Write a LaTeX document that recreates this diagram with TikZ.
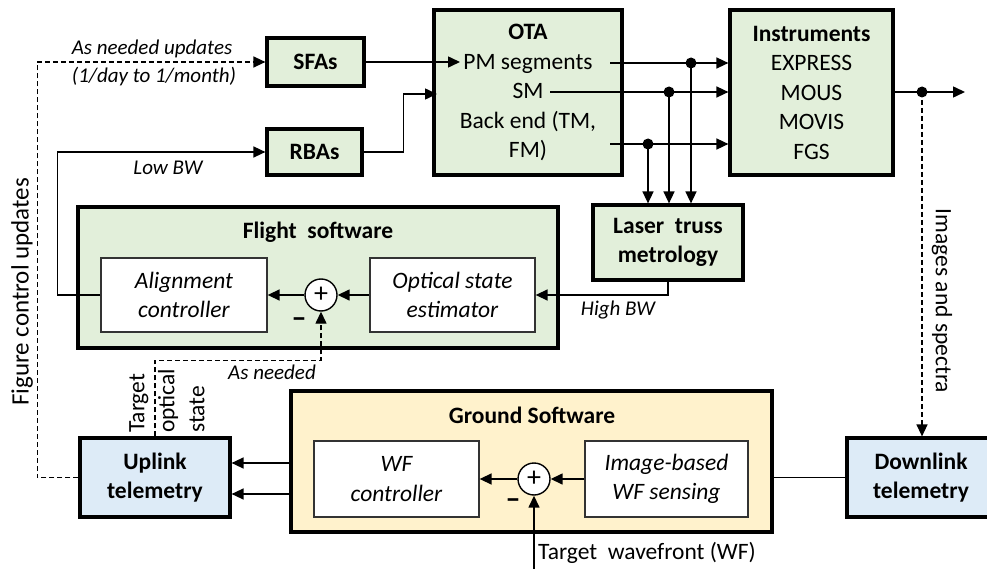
\documentclass[tikz,border=0pt]{standalone}
\usepackage{fontspec}
\setmainfont{Carlito}
\usetikzlibrary{arrows.meta}
\definecolor{gfill}{HTML}{E2EFDA}
\definecolor{bfill}{HTML}{DDEBF7}
\definecolor{yfill}{HTML}{FFF2CC}
\tikzset{
  txt/.style={font=\fontsize{23.5}{29.5}\selectfont},
  blk/.style={draw, line width=3.2pt, inner sep=0pt, align=center, txt},
  gblk/.style={blk, fill=gfill},
  bblk/.style={blk, fill=bfill},
  yblk/.style={blk, fill=yfill},
  wbox/.style={draw=black!80, line width=1.3pt, fill=white, inner sep=0pt, align=center, font=\fontsize{23.5}{29.5}\selectfont\itshape},
  conn/.style={line width=1.5pt},
  tip/.style={-{Triangle[length=12pt,width=11pt]}},
  arr/.style={conn, tip},
  dsh/.style={line width=1.4pt, dash pattern=on 5pt off 3pt},
  darr/.style={dsh, tip},
  jdot/.style={circle, fill=black, inner sep=0pt, minimum size=11pt},
  sumc/.style={circle, draw, line width=1.4pt, fill=white, inner sep=0pt, minimum size=32pt, font=\fontsize{28}{28}\selectfont},
  lbl/.style={font=\fontsize{21}{25}\selectfont\itshape, inner sep=0pt},
  rlbl/.style={txt, inner sep=0pt},
  minus/.style={font=\fontsize{30}{30}\selectfont\bfseries, inner sep=0pt},
}
\begin{document}
\begin{tikzpicture}[x=1pt, y=-1pt]
\useasboundingbox (0,0) rectangle (987,569);
\fill[white] (0,0) rectangle (987,569);

% top row
\node[gblk, minimum width=97pt, minimum height=48pt] (sfa) at (315.5,62) {\bfseries SFAs};
\node[gblk, minimum width=95pt, minimum height=46pt] (rba) at (314.5,152) {\bfseries RBAs};
\node[gblk, minimum width=188pt, minimum height=165pt] (ota) at (528,92.5)
  {\textbf{OTA}\\PM segments\\SM\\Back end (TM,\\FM)};
\node[gblk, minimum width=163pt, minimum height=165pt] (ins) at (811.5,92.5)
  {\textbf{Instruments}\\EXPRESS\\MOUS\\MOVIS\\FGS};
\node[gblk, minimum width=150pt, minimum height=75pt] (ltm) at (668,242.5)
  {\bfseries Laser\ \ truss\\\bfseries metrology};

% flight software
\node[gblk, minimum width=480pt, minimum height=141pt] (fsw) at (318,277.5) {};
\node[txt, font=\fontsize{23.5}{29.5}\selectfont\bfseries] (fswt) at (318,232) {Flight\ \ software};
\node[wbox, minimum width=166pt, minimum height=74pt] (ac) at (184,295) {Alignment\\controller};
\node[sumc] (s1) at (321,295) {+};
\node[wbox, minimum width=165pt, minimum height=74pt] (ose) at (452.5,295) {Optical state\\estimator};
\node[minus] (m1) at (299,323) {–};

% ground
\node[bblk, minimum width=150pt, minimum height=79pt] (ul) at (155,477.5) {\bfseries Uplink\\\bfseries telemetry};
\node[yblk, minimum width=481pt, minimum height=141pt] (gsw) at (531.5,461.5) {};
\node[txt, font=\fontsize{23.5}{29.5}\selectfont\bfseries] (gswt) at (532,415) {Ground Software};
\node[wbox, minimum width=165pt, minimum height=76pt] (wfc) at (396.5,479) {WF\\controller};
\node[sumc] (s2) at (534,479) {+};
\node[wbox, minimum width=163pt, minimum height=76pt] (ib) at (666.5,479) {Image-based\\WF sensing};
\node[minus] (m2) at (513,504) {–};
\node[bblk, minimum width=148pt, minimum height=79pt] (dl) at (921,477.5) {\bfseries Downlink\\\bfseries telemetry};

% coordinates
\coordinate (pmin) at (460,62);
\coordinate (smin) at (437,94);
\coordinate (pmout) at (610,63);
\coordinate (smout) at (550,92);
\coordinate (beout) at (610,144);
\coordinate (outend) at (965,92);
\coordinate (g1) at (291,463);
\coordinate (g2) at (291,494);
\coordinate (twf) at (534,572);

\node[jdot] (d1) at (691,63) {};
\node[jdot] (d2) at (669,92) {};
\node[jdot] (d3) at (648,144) {};
\node[jdot] (d4) at (922,92) {};

% connectors top
\draw[arr] (sfa.east) -- (pmin);
\draw[arr] (rba.east) -- ++(40,0) |- (smin);
\draw[arr] (pmout) -- (pmout -| ins.west);
\draw[arr] (smout) -- (smout -| ins.west);
\draw[arr] (beout) -- (beout -| ins.west);
\draw[arr] (d1.center) -- (d1 |- ltm.north);
\draw[arr] (d2.center) -- (d2 |- ltm.north);
\draw[arr] (d3.center) -- (d3 |- ltm.north);
\draw[arr] (ins.east |- d4) -- (outend);
\draw[darr] (d4.center) -- (d4 |- dl.north);

% flight software connectors
\draw[arr] (ltm.south) |- (ose.east);
\draw[arr] (ose.west) -- (s1.east);
\draw[arr] (s1.west) -- (ac.east);
\draw[arr] (ac.west) -- ++(-43,0) |- (rba.west);
\draw[darr] (ul.north) -- ++(0,-76) -| (s1.south);
\draw[darr] (ul.west) -- ++(-41,0) |- (sfa.west);

% ground connectors
\draw[arr] (g1) -- (g1 -| ul.east);
\draw[arr] (g2) -- (g2 -| ul.east);
\draw[arr] (ib.west) -- (s2.east);
\draw[arr] (s2.west) -- (wfc.east);
\draw[arr] (twf) -- (s2.south);
\draw[conn] (dl.west) -- (dl.west -| gsw.east);

% labels
\node[lbl] (l1) at (152,49) {As needed updates};
\node[lbl] (l2) at (154,77) {(1/day to 1/month)};
\node[lbl] (l3) at (168,168) {Low BW};
\node[lbl] (l4) at (618,310) {High BW};
\node[lbl] (l5) at (272,372) {As needed};
\node[rlbl, anchor=west] (l6) at (538,553) {Target\ \ wavefront (WF)};
\node[rlbl, rotate=90, font=\fontsize{25}{30}\selectfont] (l7) at (22,292) {Figure control updates};
\node[rlbl, rotate=-90] (l8) at (942,301) {Images and spectra};
\node[rlbl, rotate=90, align=left, anchor=north west, font=\fontsize{23.5}{30}\selectfont] (l9) at (129,433) {Target\\optical\\state};
\end{tikzpicture}
\end{document}
